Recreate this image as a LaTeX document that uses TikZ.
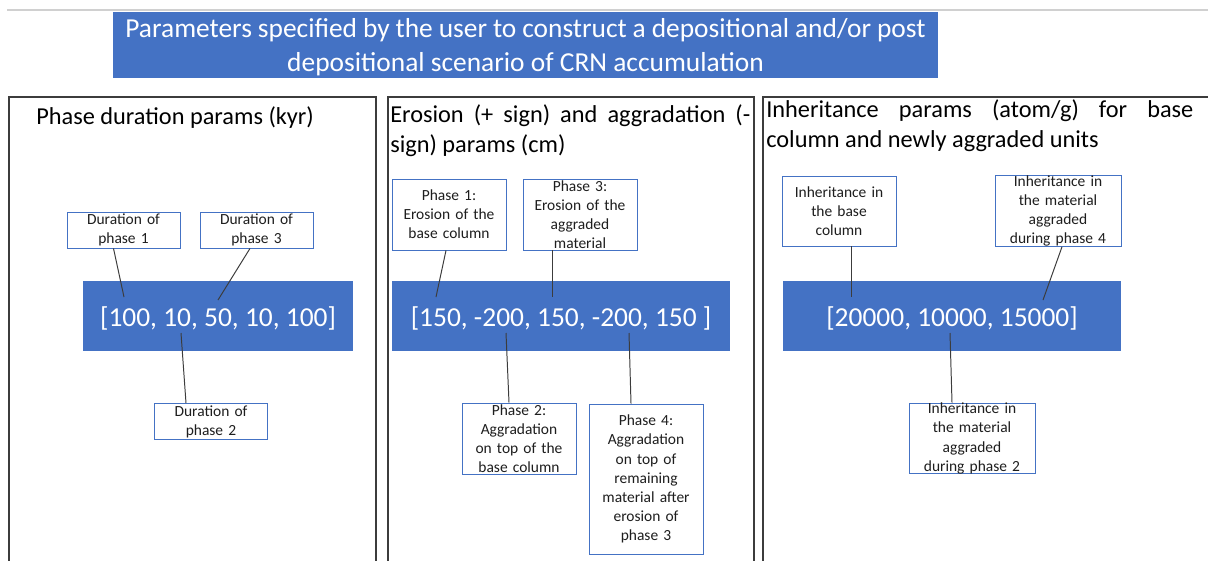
\documentclass[tikz,border=0pt]{standalone}
\usepackage{fontspec}
\setmainfont{Carlito}
\usetikzlibrary{positioning,calc}
\definecolor{myblue}{RGB}{68,114,196}
\definecolor{mygray}{RGB}{60,60,60}
\definecolor{mytext}{RGB}{30,30,30}
\definecolor{mylight}{RGB}{208,208,208}
\newcommand{\nohyphens}{\hyphenpenalty=10000\relax}
\newcommand{\sinkby}[2]{\raisebox{0pt}[\dimexpr\height+#1\relax][\depth]{#2}}

\begin{document}
\begin{tikzpicture}[x=0.025cm,y=-0.025cm,
	titlenode/.style={fill=myblue,text=white,align=center,inner sep=0pt,
		minimum width=20.625cm,minimum height=1.65cm,font=\fontsize{19.5}{23.6}\selectfont},
	panel/.style={draw=mygray,line width=0.8pt},
	headnode/.style={anchor=north west,inner sep=0pt,align=justify,text=black,
		font=\fontsize{17.3}{21.3}\selectfont\nohyphens},
	valuebar/.style={fill=myblue,text=white,inner sep=0pt,minimum height=1.75cm,
		font=\fontsize{19.5}{23}\selectfont},
	notenode/.style={draw=myblue,line width=0.6pt,fill=white,text=mytext,inner sep=0pt,
		align=center,font=\fontsize{11}{13.6}\selectfont},
	pointer/.style={draw=mygray,line width=0.7pt},
	]
	
	\useasboundingbox (0,0) rectangle (1208,560);
	\clip (0,0) rectangle (1208,560);
	
	% top rule and title
	\draw[mylight,line width=0.8pt] (7,10) -- (1215,10);
	\node[titlenode] (title) at (525.5,45) {\sinkby{3pt}{\parbox{20cm}{\centering Parameters specified by the user to construct a depositional and/or post\\depositional scenario of CRN accumulation}}};
	
	% the three panels
	\draw[panel] (9,97) rectangle (376,575);
	\draw[panel] (388,97) rectangle (754,575);
	\draw[panel] (763,97) rectangle (1220,575);
	
	\node[headnode] (head1) at (36,106) {Phase duration params (kyr)};
	\node[headnode,text width=9cm] (head2) at (390,104) {Erosion (+ sign) and aggradation (-sign) params (cm)};
	\node[headnode,text width=10.675cm] (head3) at (766,99) {Inheritance params (atom/g) for base column and newly aggraded units};
	
	% value bars
	\node[valuebar,minimum width=6.75cm] (bar1) at (218,316) {\sinkby{4pt}{[100, 10, 50, 10, 100]}};
	\node[valuebar,minimum width=8.45cm] (bar2) at (561,316) {\sinkby{4pt}{[150, -200, 150, -200, 150 ]}};
	\node[valuebar,minimum width=8.45cm] (bar3) at (952,316) {\sinkby{4pt}{[20000, 10000, 15000]}};
	
	% duration notes
	\begin{scope}[notenode/.append style={minimum width=2.825cm,minimum height=0.9cm,text width=2.7cm}]
	\node[notenode] (dur1) at (123.5,230) {Duration of\\phase 1};
	\node[notenode] (dur3) at (256.5,230) {Duration of\\phase 3};
	\node[notenode] (dur2) at (211,421.5) {Duration of\\phase 2};
	\end{scope}
	
	% erosion / aggradation notes
	\begin{scope}[notenode/.append style={minimum width=2.85cm,text width=2.7cm}]
	\node[notenode,minimum height=1.775cm] (ph1) at (449,214.5) {Phase 1:\\Erosion of the\\base column};
	\node[notenode,minimum height=1.775cm] (ph3) at (580,214.5) {Phase 3:\\Erosion of the\\aggraded\\material};
	\node[notenode,minimum height=1.775cm] (ph2) at (519,438.5) {Phase 2:\\Aggradation\\on top of the\\base column};
	\node[notenode,minimum height=3.75cm] (ph4) at (646,479) {Phase 4:\\Aggradation\\on top of\\remaining\\material after\\erosion of\\phase 3};
	\end{scope}
	
	% inheritance notes
	\begin{scope}[notenode/.append style={minimum height=1.75cm}]
	\node[notenode,minimum width=2.85cm,text width=2.7cm] (inh1) at (839,211) {Inheritance in\\the base\\column};
	\node[notenode,minimum width=3.15cm,text width=3cm] (inh4) at (1058,211) {Inheritance in\\the material\\aggraded\\during phase 4};
	\node[notenode,minimum width=3.15cm,text width=3cm] (inh2) at (972,438.5) {Inheritance in\\the material\\aggraded\\during phase 2};
	\end{scope}
	
	% pointer ends inside the bars
	\coordinate (p1) at (124,297);
	\coordinate (p3) at (218,300);
	\coordinate (p2) at (181,333);
	\coordinate (e1) at (436,297);
	\coordinate (e3) at (552,297);
	\coordinate (e2) at (506,333);
	\coordinate (e4) at (629,333);
	\coordinate (i1) at (851,297);
	\coordinate (i4) at (1043,300);
	\coordinate (i2) at (950,333);
	
	% pointers
	\draw[pointer] ($(dur1.south)+(-10,0)$) -- (p1);
	\draw[pointer] ($(dur3.south)+(-6.5,0)$) -- (p3);
	\draw[pointer] ($(dur2.north)+(-25,0)$) -- (p2);
	\draw[pointer] ($(ph1.south)+(-3,0)$) -- (e1);
	\draw[pointer] ($(ph3.south)+(-28,0)$) -- (e3);
	\draw[pointer] ($(ph2.north)+(-10,0)$) -- (e2);
	\draw[pointer] ($(ph4.north)+(-15,0)$) -- (e4);
	\draw[pointer] ($(inh1.south)+(12,0)$) -- (i1);
	\draw[pointer] ($(inh4.south)+(4,0)$) -- (i4);
	\draw[pointer] ($(inh2.north)+(-20,0)$) -- (i2);
	
\end{tikzpicture}
\end{document}
